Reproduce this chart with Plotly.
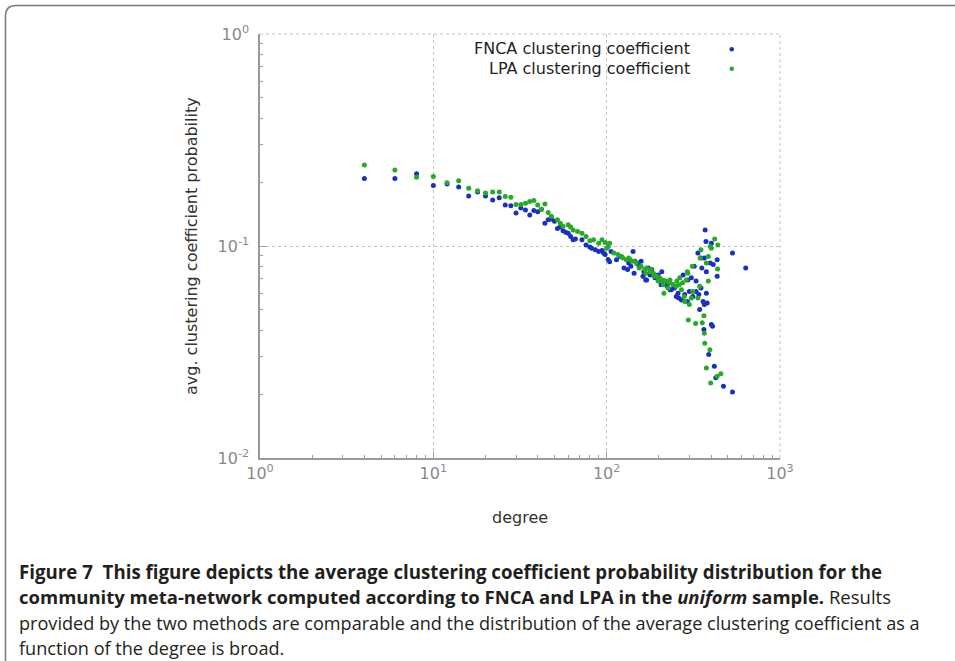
import plotly.graph_objects as go

# degree / avg. clustering coefficient
fnca_degree = [
    4, 6, 8, 10, 12, 14, 16, 18, 20, 22, 24, 26, 28, 30, 32, 34, 36, 38, 40, 42,
    44, 46, 48, 50, 52, 54, 56, 58, 60, 62, 64, 66, 72, 76, 80, 82, 86, 90, 94, 98,
    102, 96, 104, 106, 114, 120, 126, 132, 138, 142, 144, 150, 158, 162, 170, 178,
    182, 190, 198, 206, 216, 224, 236, 246, 252, 258, 270, 282, 292,
    134, 152, 164, 174, 188, 208, 168, 200, 218, 232, 242, 260, 276, 294, 300, 314,
    328, 344, 360, 380, 376, 402, 408, 364, 388, 418, 426, 472, 532,
    370, 374, 402, 336, 350, 366, 532, 634, 434, 434, 396, 412, 320, 354, 376,
    308, 328, 350, 340, 366,
]
fnca_coef = [
    0.208, 0.208, 0.219, 0.193, 0.196, 0.190, 0.172, 0.180, 0.172, 0.165, 0.169,
    0.156, 0.155, 0.143, 0.151, 0.148, 0.140, 0.147, 0.145, 0.149,
    0.128, 0.133, 0.134, 0.131, 0.121, 0.123, 0.118, 0.116, 0.115, 0.111, 0.107,
    0.108, 0.107, 0.101, 0.0988, 0.0977, 0.0959, 0.0941, 0.0952, 0.0912,
    0.0863, 0.0926, 0.0842, 0.0941, 0.0861, 0.0893, 0.0787, 0.0774, 0.0802, 0.0941,
    0.0744, 0.0831, 0.0848, 0.0719, 0.0692, 0.0729,
    0.0774, 0.0708, 0.0729, 0.0657, 0.0683, 0.0645, 0.0622, 0.0634, 0.0578, 0.0599,
    0.0556, 0.0590, 0.0548,
    0.0831, 0.0819, 0.0757, 0.0787, 0.0729, 0.0757, 0.0692, 0.0692, 0.0657, 0.0622,
    0.0657, 0.0569, 0.0729, 0.0692, 0.0610, 0.0578,
    0.0610, 0.0502, 0.0548, 0.0539, 0.0599, 0.0426, 0.0418, 0.0404, 0.0308, 0.0271,
    0.0239, 0.0218, 0.0205,
    0.119, 0.105, 0.103, 0.0926, 0.0877, 0.0877, 0.0926, 0.0787, 0.0861, 0.0719,
    0.0831, 0.0819, 0.0802, 0.0787, 0.0757,
    0.0708, 0.0683, 0.0634, 0.0590, 0.0530,
]

lpa_degree = [
    4, 6, 8, 10, 12, 14, 16, 18, 20, 22, 24, 26, 28, 30, 32, 34, 36, 38, 40, 42,
    44, 46, 48, 52, 54, 56, 60, 62, 64, 68, 72, 76, 80, 84, 90, 94, 98, 100,
    102, 104, 110, 116, 122, 124, 130, 136, 140, 148, 158, 166, 170, 178, 186, 194,
    202, 210, 220, 230, 242, 252, 264, 274, 288, 294,
    134, 146, 154, 168, 180, 188, 198, 212, 226, 254, 262, 280, 308, 270, 232, 214,
    420, 438, 396, 402, 350, 386, 346, 376, 436, 312, 292, 386, 344, 314, 336, 282,
    300, 296, 326, 356, 364, 366, 368, 394, 376, 434, 456, 398,
]
lpa_coef = [
    0.241, 0.228, 0.211, 0.213, 0.199, 0.203, 0.187, 0.182, 0.178, 0.180, 0.180,
    0.171, 0.170, 0.157, 0.157, 0.159, 0.162, 0.164, 0.156, 0.149,
    0.158, 0.144, 0.138, 0.133, 0.128, 0.124, 0.126, 0.123, 0.119, 0.117, 0.115,
    0.111, 0.106, 0.107, 0.103, 0.107, 0.104, 0.0977,
    0.0995, 0.103, 0.0926, 0.0912, 0.0893, 0.0877, 0.0861, 0.0866, 0.0848, 0.0831,
    0.0802, 0.0774, 0.0787, 0.0757, 0.0744, 0.0719,
    0.0708, 0.0692, 0.0683, 0.0670, 0.0657, 0.0645, 0.0708, 0.0670, 0.0692, 0.0744,
    0.0877, 0.085, 0.0787, 0.0744, 0.0774, 0.0719, 0.0683, 0.0657, 0.0634, 0.0683,
    0.0657, 0.0578, 0.0569, 0.0622, 0.0692, 0.0599,
    0.108, 0.101, 0.0995, 0.0977, 0.0959, 0.0893, 0.0877, 0.0831, 0.0780, 0.0802,
    0.0757, 0.0683, 0.0645, 0.0610, 0.0569, 0.0548,
    0.0530, 0.0448, 0.0431, 0.0434, 0.0469, 0.0388, 0.0348, 0.0324, 0.0266, 0.0243,
    0.0250, 0.0226,
]

x_tick_vals = [1, 10, 100, 1000]
x_tick_text = ["10<sup>0</sup>", "10<sup>1</sup>", "10<sup>2</sup>", "10<sup>3</sup>"]
y_tick_vals = [0.01, 0.1, 1]
y_tick_text = ["10<sup>-2</sup>", "10<sup>-1</sup>", "10<sup>0</sup>"]

series_names = ["FNCA clustering coefficient", "LPA clustering coefficient"]
BLUE = "#1a32b8"
GREEN = "#2aa82a"

caption_lines = [
    "<b>Figure 7  This figure depicts the average clustering coefficient probability distribution for the</b>",
    "<b>community meta-network computed according to FNCA and LPA in the <i>uniform</i> sample.</b> Results",
    "provided by the two methods are comparable and the distribution of the average clustering coefficient as a",
    "function of the degree is broad.",
]
caption_sizes = [18.7, 18.5, 18.1, 18.1]

W, H = 955, 661
L, R, T, B = 260, 780, 34, 458
PLOT_FONT = "DejaVu Sans"
CAPTION_FONT = "Open Sans, Noto Sans, sans-serif"


def px_x(p):
    return (p - L) / (R - L)


def px_y(p):
    return (B - p) / (B - T)


fig = go.Figure()
fig.add_trace(go.Scatter(x=fnca_degree, y=fnca_coef, mode="markers",
                         marker=dict(color=BLUE, size=5), name=series_names[0]))
fig.add_trace(go.Scatter(x=lpa_degree, y=lpa_coef, mode="markers",
                         marker=dict(color=GREEN, size=5), name=series_names[1]))

axis_common = dict(
    showline=True, linecolor="#9a9a9a", linewidth=1.5,
    ticks="inside", ticklen=6, tickcolor="#9a9a9a",
    showgrid=True, gridcolor="#c4c4c4", griddash="dot", gridwidth=1,
    zeroline=False,
    tickfont=dict(family=PLOT_FONT, size=16, color="#8a8a8a"),
    minor=dict(ticks="inside", ticklen=3, tickcolor="#9a9a9a", showgrid=False, dtick="D1"),
)
fig.update_xaxes(type="log", range=[0, 3], tickvals=x_tick_vals, ticktext=x_tick_text,
                 **axis_common)
fig.update_yaxes(type="log", range=[-2, 0], tickvals=y_tick_vals, ticktext=y_tick_text,
                 ticklabelstandoff=6, **axis_common)

shapes = [
    # dotted frame on top and right
    dict(type="line", xref="paper", yref="paper", x0=0, x1=1, y0=1, y1=1,
         line=dict(color="#c4c4c4", width=1, dash="dot")),
    dict(type="line", xref="paper", yref="paper", x0=1, x1=1, y0=0, y1=1,
         line=dict(color="#c4c4c4", width=1, dash="dot")),
    # legend keys
    dict(type="circle", xref="paper", yref="paper",
         x0=px_x(729.5), x1=px_x(734), y0=px_y(47), y1=px_y(51.5),
         fillcolor=BLUE, line=dict(width=0)),
    dict(type="circle", xref="paper", yref="paper",
         x0=px_x(729.5), x1=px_x(734), y0=px_y(66.5), y1=px_y(71),
         fillcolor=GREEN, line=dict(width=0)),
    # figure box with rounded top-left corner
    dict(type="path", xref="paper", yref="paper",
         path=(f"M {px_x(5.5)} {px_y(H + 5)} L {px_x(5.5)} {px_y(16)} "
               f"Q {px_x(5.5)} {px_y(5.5)} {px_x(16)} {px_y(5.5)} L {px_x(W + 5)} {px_y(5.5)}"),
         line=dict(color="#7a7a7a", width=1.5)),
]

annotations = [
    dict(text=series_names[0], x=px_x(692), y=px_y(49), xanchor="right", yanchor="middle"),
    dict(text=series_names[1], x=px_x(692), y=px_y(69), xanchor="right", yanchor="middle"),
    dict(text="degree", x=px_x(520), y=px_y(517), xanchor="center", yanchor="middle"),
    dict(text="avg. clustering coefficient probability", x=px_x(191), y=px_y(246),
         xanchor="center", yanchor="middle", textangle=-90),
]
for a in annotations:
    a.update(xref="paper", yref="paper", showarrow=False,
             font=dict(family=PLOT_FONT, size=16, color="#222222"))
annotations[2]["font"]["color"] = "#333333"
annotations[3]["font"]["color"] = "#333333"

for i, line in enumerate(caption_lines):
    annotations.append(dict(
        text=line, xref="paper", yref="paper", x=px_x(17), y=px_y(571 + 25.8 * i),
        xanchor="left", yanchor="middle", showarrow=False,
        font=dict(family=CAPTION_FONT, size=caption_sizes[i], color="#231f20"),
    ))

fig.update_layout(
    width=W, height=H,
    margin=dict(l=L, r=W - R, t=T, b=H - B, pad=0),
    paper_bgcolor="white", plot_bgcolor="white",
    showlegend=False,
    shapes=shapes, annotations=annotations,
)

fig.write_html("out.html", config={"displayModeBar": False},
               post_script="document.body.style.margin = '0';")
